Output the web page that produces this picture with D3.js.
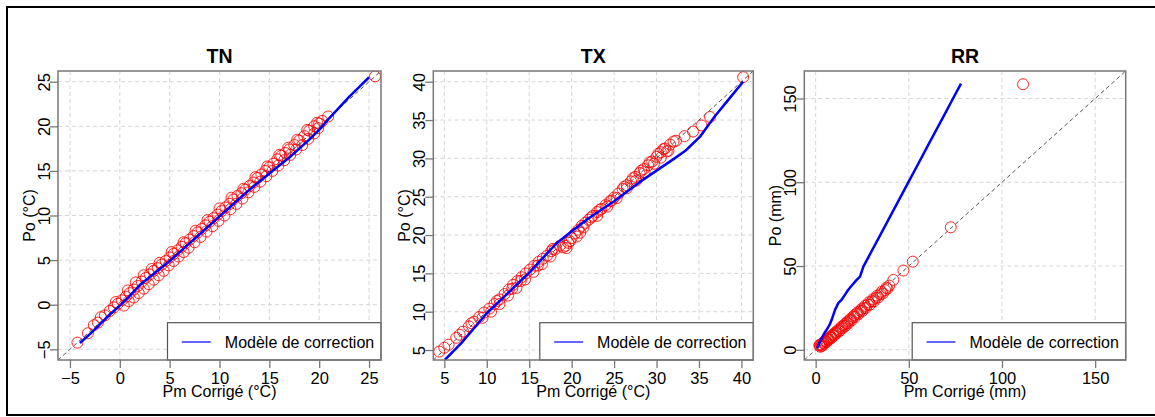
<!DOCTYPE html>
<html><head><meta charset="utf-8">
<script src="https://cdn.jsdelivr.net/npm/d3@7"></script>
<style>body{margin:0;background:#fff}svg{display:block}text{font-family:"Liberation Sans",Arial,sans-serif;fill:#000}</style>
</head><body><svg id="c" width="1155" height="417"></svg>
<script>
// ---------- DATA ----------
const titles = ["TN", "TX", "RR"];
const xLabels = ["Pm Corrigé (°C)", "Pm Corrigé (°C)", "Pm Corrigé (mm)"];
const yLabels = ["Po (°C)", "Po (°C)", "Po (mm)"];
const legendLabel = "Modèle de correction";

const tnTicks = [-5, 0, 5, 10, 15, 20, 25];
const txTicks = [5, 10, 15, 20, 25, 30, 35, 40];
const rrTicks = [0, 50, 100, 150];

// TN quantiles (red circles)
const tnPm = [-4.25,-3.2,-2.2,-1.5,-1.0,-0.6,-0.2,0.2,0.6,1.0,1.4,1.8,2.2,2.6,3.0,3.4,3.8,4.2,4.6,5.0,5.4,5.8,6.2,6.6,7.0,7.4,7.8,8.2,8.6,9.0,9.4,9.8,10.2,10.6,11.0,11.4,11.8,12.2,12.6,13.0,13.4,13.8,14.2,14.6,15.0,15.4,15.8,16.2,16.6,17.0,17.5,18.0,18.5,19.0,19.5,20.0,20.9,25.6,
  0.4,0.9,1.4,1.9,2.4,2.9,3.4,3.9,4.4,4.9,5.4,5.9,6.4,6.9,7.5,8.1,8.7,9.3,9.9,10.5,11.1,11.7,12.3,12.9,13.5,14.1,14.7,15.3,15.9,16.5,17.1,17.7,18.3,18.9,19.5,19.9,
  -2.6,-1.9,-0.4,0.8,1.6,2.4,3.2,4.0,5.2,6.4,7.6,8.8,10.0,11.2,12.4,13.6,14.8,16.0,16.9,17.8,18.8,19.8,20.3];
const tnPo = [-4.25,-3.2,-2.0,-1.2,-0.7,-0.3,0.1,0.5,0.9,1.3,1.7,2.1,2.6,3.0,3.4,3.8,4.1,4.5,4.9,5.3,5.7,6.1,6.5,6.9,7.3,7.7,8.1,8.5,8.9,9.3,9.7,10.1,10.5,10.9,11.3,11.8,12.2,12.5,12.9,13.3,13.7,14.2,14.6,15.0,15.4,15.8,16.3,16.7,17.0,17.4,17.9,18.4,18.9,19.5,20.0,20.3,21.1,25.6,
  -0.1,0.4,0.8,1.3,1.8,2.3,2.8,3.3,3.8,4.4,4.9,5.4,5.9,6.4,7.0,7.6,8.2,8.8,9.4,10.0,10.7,11.3,11.9,12.6,13.2,13.8,14.4,15.0,15.6,16.2,16.8,17.4,17.9,18.6,19.2,19.8,
  -2.3,-1.4,0.3,1.6,2.5,3.3,4.0,4.7,5.9,7.0,8.3,9.5,10.8,12.0,13.0,14.3,15.5,16.8,17.6,18.5,19.6,20.4,20.6];
// TN correction model (blue line)
const tnModPm = [-4.0,-3.0,-2.0,-1.0,0.0,1.0,2.0,3.0,4.0,5.0,6.0,7.0,8.0,9.0,10.0,11.0,12.0,13.0,14.0,15.0,16.0,17.0,18.0,19.0,20.0,21.0,22.0,23.0,24.0,25.0];
const tnModPo = [-4.3,-3.3,-2.2,-1.1,-0.1,1.0,2.2,3.1,4.0,4.9,5.9,6.9,7.9,8.9,9.9,10.9,11.9,12.9,13.8,14.7,15.6,16.5,17.5,18.5,19.6,20.9,22.1,23.3,24.4,25.5];

// TX quantiles
const txPm = [4.4,5.5,6.4,7.2,7.9,8.5,9.1,9.7,10.3,10.9,11.5,12.1,12.6,13.1,13.6,14.1,14.6,15.1,15.6,16.1,16.6,17.1,17.6,18.0,19.0,19.3,19.6,20.0,20.4,20.8,21.2,21.6,22.0,22.5,23.0,23.5,24.0,24.5,25.0,25.5,26.0,26.5,27.0,27.5,28.0,28.5,29.0,29.5,30.0,30.5,31.0,31.6,32.3,33.3,34.3,35.3,36.3,40.2,
  9.5,10.5,11.5,12.5,13.5,14.5,15.5,16.5,17.5,20.6,21.0,23.0,24.2,25.3,26.5,27.6,28.6,29.7,30.5,31.4,
  5.0,6.8,8.2,11.2,13.0,14.0,16.0,17.8,18.6,19.4,19.8,21.4,22.3,23.3,24.7,26.2,27.2,28.2,29.2,30.2,30.8,31.2,32.0];
const txPo = [4.8,5.7,6.6,7.4,8.1,8.7,9.3,9.9,10.4,11.0,11.6,12.3,12.9,13.5,14.0,14.5,15.0,15.5,16.0,16.5,16.9,17.3,17.9,18.1,18.4,18.6,19.0,19.6,20.2,20.7,21.2,21.6,22.0,22.5,23.0,23.4,23.9,24.4,24.9,25.4,26.0,26.5,27.0,27.6,28.1,28.6,29.1,29.6,30.2,30.8,31.3,31.8,32.3,32.9,33.5,34.3,35.4,40.6,
  9.2,10.0,11.0,12.1,13.1,14.2,15.2,16.2,17.2,19.8,20.3,22.5,23.7,24.8,26.1,27.1,28.2,29.3,30.1,31.0,
  5.3,7.0,8.5,11.4,13.0,14.0,16.0,18.2,18.6,18.3,19.2,21.0,22.3,23.3,24.5,26.3,27.4,28.4,29.5,30.6,31.2,30.9,32.2];
const txModPm = [5.05,7.0,10.0,12.0,15.0,18.2,20.0,22.0,25.0,28.0,30.0,32.0,33.4,35.1,36.8,38.5,40.2];
const txModPo = [3.7,5.9,9.8,11.9,15.1,18.9,20.5,22.2,24.4,26.9,28.4,29.9,31.0,32.8,35.4,37.7,40.0];

// RR quantiles
const rrPm = [2.0,2.5,3.0,3.5,4.0,4.6,5.2,5.8,6.4,7.0,7.7,8.4,9.1,9.8,10.5,11.2,12.0,12.8,13.6,14.4,15.2,16.0,16.8,17.6,18.4,19.3,20.2,21.1,22.0,23.0,24.0,25.0,26.0,27.0,28.0,29.1,30.2,31.3,32.4,33.6,34.8,36.0,37.3,38.5,41.7,47.1,52.1,72.5,111.3,
  2.2,3.2,4.3,5.5,6.7,8.0,9.4,10.8,12.4,14.0,15.6,17.2,18.8,20.7,22.5,24.5,26.5,28.5,30.7,33.0,35.4,37.9,39.5];
const rrPo = [2.5,1.8,3.2,2.6,4.0,3.6,5.0,4.6,6.1,5.8,7.3,7.0,8.6,8.3,10.0,9.8,11.4,11.2,12.9,12.8,14.4,14.2,16.0,15.8,17.8,17.6,19.6,19.5,21.4,21.2,23.2,23.1,25.0,25.0,27.0,26.9,29.0,29.0,31.0,31.2,33.2,33.6,35.6,36.5,41.7,47.3,52.6,73.1,158.5,
  3.0,2.2,4.6,5.3,6.7,7.9,9.1,10.6,12.2,13.9,15.3,17.0,18.6,20.6,22.4,24.2,26.2,28.3,30.2,32.3,34.6,37.0,38.3];
const rrModPm = [0.9,2.0,3.5,5.0,5.9,7.5,8.6,9.8,10.4,12.1,14.0,15.5,17.5,19.5,22.0,23.8,25.6,30.0,35.0,40.0,45.0,50.0,55.0,60.0,65.0,70.0,74.0,78.0];
const rrModPo = [1.0,4.0,7.5,10.5,11.9,15.0,17.9,21.9,23.8,27.8,30.0,32.5,35.8,38.5,41.7,43.7,49.6,58.8,69.2,79.6,90.1,100.5,110.9,121.4,131.8,142.2,150.6,158.9];

// ---------- LAYOUT ----------
const panels = [
  {title: titles[0], xl: xLabels[0], yl: yLabels[0], ticks: tnTicks, dom: [-6.2, 26.2], box: [58, 381],
   pm: tnPm, po: tnPo, mpm: tnModPm, mpo: tnModPo},
  {title: titles[1], xl: xLabels[1], yl: yLabels[1], ticks: txTicks, dom: [3.7, 41.4], box: [433.3, 753.3],
   pm: txPm, po: txPo, mpm: txModPm, mpo: txModPo},
  {title: titles[2], xl: xLabels[2], yl: yLabels[2], ticks: rrTicks, dom: [-6.1, 166.4], box: [804.3, 1125.7],
   pm: rrPm, po: rrPo, mpm: rrModPm, mpo: rrModPo}
];
const yTop = 71, yBot = 360;
const svg = d3.select("#c");
svg.append("rect").attr("width", 1155).attr("height", 417).attr("fill", "#fff");
svg.append("rect").attr("x", 7).attr("y", 7).attr("width", 1160).attr("height", 408)
  .attr("fill", "none").attr("stroke", "#000").attr("stroke-width", 2);

panels.forEach((p, i) => {
  const x = d3.scaleLinear().domain(p.dom).range(p.box);
  const y = d3.scaleLinear().domain(p.dom).range([yBot, yTop]);
  const g = svg.append("g");
  const cid = "clip" + i;
  svg.append("clipPath").attr("id", cid).append("rect")
    .attr("x", p.box[0]).attr("y", yTop).attr("width", p.box[1] - p.box[0]).attr("height", yBot - yTop);
  const inner = g.append("g").attr("clip-path", `url(#${cid})`);
  // grid
  inner.selectAll(".gv").data(p.ticks).join("line").attr("class", "gv")
    .attr("x1", d => x(d)).attr("x2", d => x(d)).attr("y1", yTop).attr("y2", yBot)
    .attr("stroke", "#d6d6d6").attr("stroke-width", 1).attr("stroke-dasharray", "4,3");
  inner.selectAll(".gh").data(p.ticks).join("line").attr("class", "gh")
    .attr("y1", d => y(d)).attr("y2", d => y(d)).attr("x1", p.box[0]).attr("x2", p.box[1])
    .attr("stroke", "#d6d6d6").attr("stroke-width", 1).attr("stroke-dasharray", "4,3");
  // points
  inner.selectAll("circle").data(d3.range(p.pm.length)).join("circle")
    .attr("cx", k => x(p.pm[k])).attr("cy", k => y(p.po[k])).attr("r", 5.5)
    .attr("fill", "none").attr("stroke", "#ff0000").attr("stroke-width", 1).attr("stroke-opacity", 0.85);
  // diagonal
  inner.append("line").attr("x1", x(p.dom[0])).attr("y1", y(p.dom[0]))
    .attr("x2", x(p.dom[1])).attr("y2", y(p.dom[1]))
    .attr("stroke", "#555").attr("stroke-width", 1).attr("stroke-dasharray", "4,3");
  // model line
  const line = d3.line().x(k => x(p.mpm[k])).y(k => y(p.mpo[k]));
  inner.append("path").datum(d3.range(p.mpm.length)).attr("d", line)
    .attr("fill", "none").attr("stroke", "#0000ff").attr("stroke-width", 2.5).attr("stroke-linejoin", "round");
  // legend
  const lw = 213.5, lh = 37.3, lx = p.box[1] - lw, ly = yBot - lh;
  g.append("rect").attr("x", lx).attr("y", ly).attr("width", lw).attr("height", lh)
    .attr("fill", "#fff").attr("stroke", "#555").attr("stroke-width", 1.2);
  g.append("line").attr("x1", lx + 14.3).attr("x2", lx + 43.3).attr("y1", ly + 19.3).attr("y2", ly + 19.3)
    .attr("stroke", "#0000ff").attr("stroke-width", 1.2);
  g.append("text").attr("x", lx + 57.3).attr("y", ly + 25.6).attr("font-size", 16).text(legendLabel);
  // box
  g.append("rect").attr("x", p.box[0]).attr("y", yTop).attr("width", p.box[1] - p.box[0]).attr("height", yBot - yTop)
    .attr("fill", "none").attr("stroke", "#777").attr("stroke-width", 1.5);
  // axes
  const xa = g.append("g").attr("transform", `translate(0,${yBot})`)
    .call(d3.axisBottom(x).tickValues(p.ticks).tickSize(8).tickPadding(0).tickFormat(d3.format("d")));
  xa.select(".domain").remove();
  xa.selectAll("line").attr("stroke", "#777").attr("stroke-width", 1.3);
  xa.selectAll("text").attr("dy", null).attr("y", 24).attr("font-size", 16.5)
    .style("font-family", '"Liberation Sans",Arial,sans-serif').attr("fill", "#000");
  const ya = g.append("g").attr("transform", `translate(${p.box[0]},0)`)
    .call(d3.axisLeft(y).tickValues(p.ticks).tickSize(8).tickPadding(0).tickFormat(d3.format("d")));
  ya.select(".domain").remove();
  ya.selectAll("line").attr("stroke", "#777").attr("stroke-width", 1.3);
  ya.selectAll("text").attr("x", null).attr("dy", null).attr("text-anchor", "middle")
    .attr("transform", "translate(-8.5,0) rotate(-90)").attr("y", 0).attr("font-size", 16.5)
    .style("font-family", '"Liberation Sans",Arial,sans-serif').attr("fill", "#000");
  const cx = (p.box[0] + p.box[1]) / 2;
  g.append("text").attr("x", cx).attr("y", 62.7).attr("text-anchor", "middle")
    .attr("font-size", 19.5).attr("font-weight", "bold").text(p.title);
  g.append("text").attr("x", cx).attr("y", 396.5).attr("text-anchor", "middle")
    .attr("font-size", 16).text(p.xl);
  g.append("text").attr("transform", `translate(${p.box[0] - 23.5},${(yTop + yBot) / 2}) rotate(-90)`)
    .attr("text-anchor", "middle").attr("font-size", 16).text(p.yl);
});
</script></body></html>
